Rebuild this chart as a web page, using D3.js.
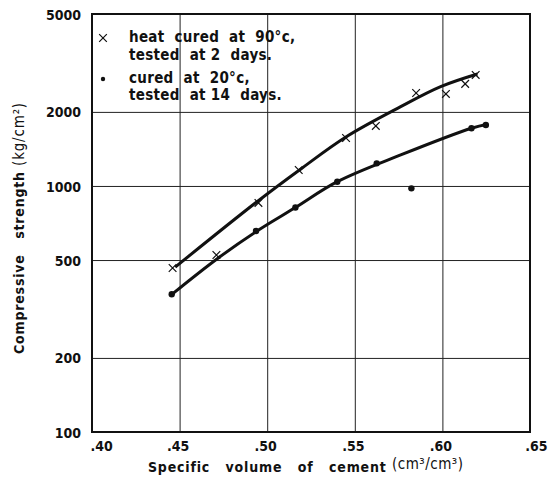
<!DOCTYPE html>
<html>
<head>
<meta charset="utf-8">
<script src="https://cdn.jsdelivr.net/npm/d3@7"></script>
<style>
  body { margin: 0; background: #fff; }
  text { font-family: "DejaVu Sans Condensed", "Liberation Sans", sans-serif; font-weight: bold; fill: #111; }
</style>
</head>
<body>
<div id="chart"></div>
<script>
// measured points
const heatX = [.446, .471, .495, .518, .545, .562, .585, .602, .613, .619];
const heatY = [464, 524, 853, 1161, 1567, 1754, 2387, 2366, 2600, 2826];
const coldX = [.4455, .4936, .5161, .540, .5625, .5823, .6166, .6248];
const coldY = [363, 656, 817, 1041, 1236, 978, 1717, 1770];

// fitted curves as drawn
const heatCurveX = [.4475, .4942, .519, .5447, .5762, .599, .620];
const heatCurveY = [468, 863, 1170, 1578, 2100, 2533, 2851];
const coldCurveX = [.4463, .4713, .4942, .5161, .540, .5762, .6166, .6258];
const coldCurveY = [366, 505, 656, 817, 1041, 1337, 1717, 1782];

const xTicks = [.40, .45, .50, .55, .60, .65];
const yTicks = [100, 200, 500, 1000, 2000, 5000];

const width = 548,
      height = 483,
      margin = ({ top: 14, right: 18, bottom: 51, left: 92 });

let svg = d3.select("#chart")
    .append("svg")
    .attr("width", width)
    .attr("height", height);

let x = d3.scaleLinear()
    .domain([.40, .65])
    .range([margin.left, width - margin.right]);

let y = d3.scaleLog()
    .domain([100, 5000])
    .range([height - margin.bottom, margin.top]);

// grid + tick labels
let gx = svg.append("g")
    .attr("transform", `translate(0,${height - margin.bottom})`)
    .call(d3.axisBottom(x)
        .tickValues(xTicks)
        .tickSize(-(height - margin.bottom - margin.top))
        .tickPadding(9)
        .tickFormat(d => d.toFixed(2).slice(1)));
gx.select(".domain").remove();
gx.selectAll("line").attr("stroke", "#222").attr("stroke-width", 1);
gx.selectAll("text")
    .style("font-size", "14px")
    .attr("text-anchor", (d, i) => i == 0 ? "start" : (i == xTicks.length - 1 ? "end" : "middle"))
    .attr("dx", (d, i) => i == 0 ? -2 : (i == xTicks.length - 1 ? 17 : -2));

let gy = svg.append("g")
    .attr("transform", `translate(${margin.left},0)`)
    .call(d3.axisLeft(y)
        .tickValues(yTicks)
        .tickSize(-(width - margin.left - margin.right))
        .tickPadding(11)
        .tickFormat(d => d));
gy.select(".domain").remove();
gy.selectAll("line").attr("stroke", "#222").attr("stroke-width", 1);
gy.selectAll("text").style("font-size", "14px").attr("dy", "0.36em");

// frame
svg.append("rect")
    .attr("x", margin.left)
    .attr("y", margin.top)
    .attr("width", width - margin.left - margin.right)
    .attr("height", height - margin.top - margin.bottom)
    .attr("fill", "none")
    .attr("stroke", "#111")
    .attr("stroke-width", 2);

// curves
let line = d3.line()
    .x(d => x(d[0]))
    .y(d => y(d[1]))
    .curve(d3.curveCatmullRom);

svg.append("path")
    .datum(d3.zip(heatCurveX, heatCurveY))
    .attr("d", line)
    .attr("fill", "none")
    .attr("stroke", "#111")
    .attr("stroke-width", 3);

svg.append("path")
    .datum(d3.zip(coldCurveX, coldCurveY))
    .attr("d", line)
    .attr("fill", "none")
    .attr("stroke", "#111")
    .attr("stroke-width", 3);

// markers
let cross = d3.symbol().type(d3.symbolX).size(40);

svg.selectAll(".heat")
    .data(d3.zip(heatX, heatY))
    .join("path")
    .attr("class", "heat")
    .attr("transform", d => `translate(${x(d[0])},${y(d[1])})`)
    .attr("d", cross)
    .attr("fill", "none")
    .attr("stroke", "#111")
    .attr("stroke-width", 1.2);

svg.selectAll(".cold")
    .data(d3.zip(coldX, coldY))
    .join("circle")
    .attr("class", "cold")
    .attr("cx", d => x(d[0]))
    .attr("cy", d => y(d[1]))
    .attr("r", 3.2)
    .attr("fill", "#111");

// legend
let legend = svg.append("g");
legend.append("path")
    .attr("transform", "translate(103,38)")
    .attr("d", cross)
    .attr("fill", "none")
    .attr("stroke", "#111")
    .attr("stroke-width", 1.2);
legend.append("circle")
    .attr("cx", 103).attr("cy", 79).attr("r", 2.2).attr("fill", "#111");

let legendLines = [
    ["heat  cured  at  90\u00b0c,", 42],
    ["tested  at 2  days.", 60],
    ["cured  at  20\u00b0c,", 83],
    ["tested  at 14  days.", 100]
];
legend.selectAll("text")
    .data(legendLines)
    .join("text")
    .attr("x", 129)
    .attr("y", d => d[1])
    .style("font-size", "15px")
    .style("letter-spacing", "0.3px")
    .style("white-space", "pre")
    .text(d => d[0]);

// axis titles
svg.append("text")
    .attr("x", 148)
    .attr("y", 472)
    .style("font-size", "14px")
    .style("letter-spacing", "0.8px")
    .style("white-space", "pre")
    .text("Specific   volume   of   cement");
svg.append("text")
    .attr("x", 392)
    .attr("y", 469)
    .style("font-size", "15px")
    .style("font-weight", "normal")
    .style("letter-spacing", "0.5px")
    .text("(cm\u00b3/cm\u00b3)");

let yt = svg.append("text")
    .attr("transform", "translate(24,354) rotate(-90)")
    .style("font-size", "14px")
    .style("letter-spacing", "0.8px")
    .style("white-space", "pre");
yt.append("tspan").text("Compressive   strength ");
yt.append("tspan").style("font-weight", "normal").style("font-size", "15px").text("(kg/cm\u00b2)");
</script>
</body>
</html>
